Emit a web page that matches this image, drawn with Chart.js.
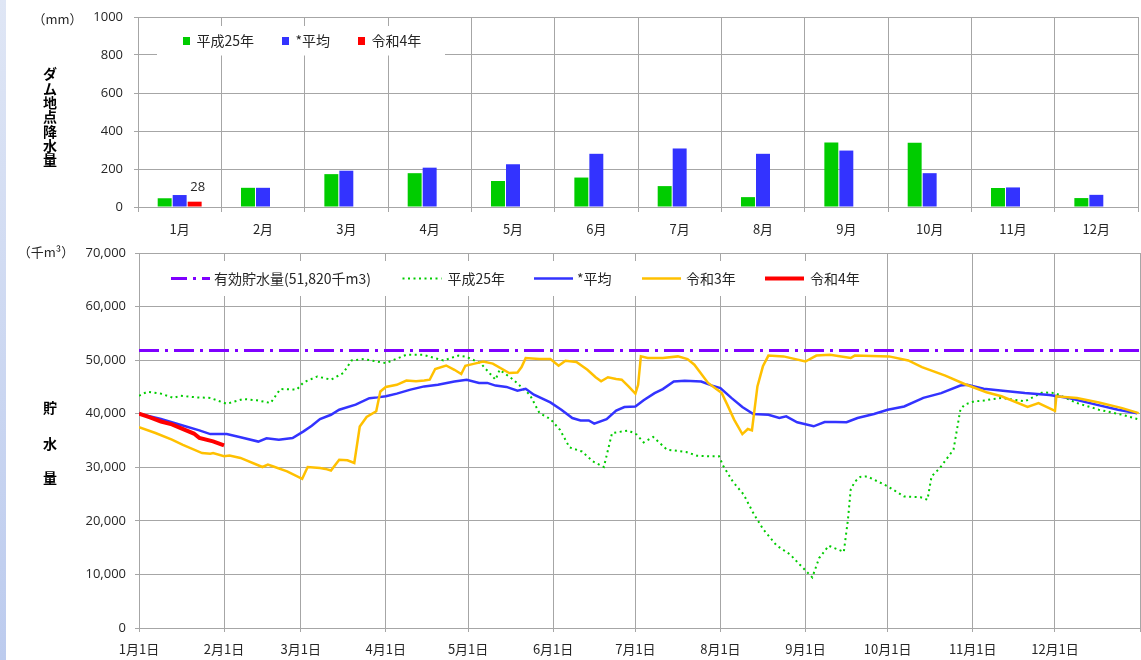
<!DOCTYPE html>
<html><head><meta charset="utf-8">
<script src="https://cdn.jsdelivr.net/npm/chart.js@4.4.1/dist/chart.umd.min.js"></script>
<style>
html,body{margin:0;padding:0;background:#fff;width:1141px;height:660px;overflow:hidden;}
#strip{position:absolute;left:0;top:0;width:6px;height:660px;background:linear-gradient(#dfe6f5,#bccbee);z-index:2;}
#c1{position:absolute;left:0;top:0;}
#c2{position:absolute;left:0;top:240px;}
</style></head><body>
<canvas id="c1" width="1141" height="240"></canvas>
<canvas id="c2" width="1141" height="420"></canvas>
<div id="strip"></div>
<script>
// ---------- data: rainfall (mm) ----------
const months = ['1月','2月','3月','4月','5月','6月','7月','8月','9月','10月','11月','12月'];
const rainH25 = [46, 101, 173, 178, 137, 155, 110, 52, 340, 338, 100, 47];
const rainAvg = [63, 101, 191, 207, 225, 280, 308, 280, 297, 178, 103, 64];
const rainR4  = [28, null, null, null, null, null, null, null, null, null, null, null];

// ---------- data: storage (千m3), x = day of year (0 = 1月1日) ----------
const capacity = 51820;
const monthStartDays = [0, 31, 59, 90, 120, 151, 181, 212, 243, 273, 304, 334];
const dayTickLabels = ['1月1日','2月1日','3月1日','4月1日','5月1日','6月1日','7月1日','8月1日','9月1日','10月1日','11月1日','12月1日'];

const h25Days = [0,3,8,12.5,15,21,26,32,38,43,48,51.5,57.5,60,65,70,74.5,77.5,82,90,97.5,103.5,111,116.5,119.5,124.5,130,131.5,136.5,142.5,146,150,153.5,157,161.5,165.5,169.5,172.5,178.5,181.5,184,187.5,192.5,199.5,203.5,208,211.5,213,216.5,220.5,224,227.5,232.5,237.5,241,245.5,248,251.5,257,258.5,259.5,261,263,265.5,270,273,279,285,287.5,289,292,297,299.5,301,304.5,308,311.5,314.5,323,329.5,334,342,350,358.5,364];
const h25Vals = [43350,44100,43750,42950,43350,43050,42950,41850,42750,42500,42000,44600,44500,45850,46950,46350,47600,49950,50200,49450,51000,51000,49950,50850,50600,49450,46350,48200,46350,43550,40150,39000,37000,33700,32950,31100,30050,36400,36850,36100,34650,35650,33300,32850,32150,32050,32050,30300,27350,24900,21450,18500,15400,13700,11800,9450,13050,15350,14200,20200,25800,27300,28200,28300,27200,26450,24550,24400,23950,28300,29850,33300,40750,41700,42300,42450,42750,42950,42300,44000,43850,42000,40750,39800,39000];

const avgDays = [0,8,15,22,26,32,37,43.5,46.5,51,56,60,63,66,70,73,79,84,87,90,94,99,104,109,115,119.5,124,127,130,134,138,141,144,150,154,158,161,164,166,170.5,174,177,181,184,188,191,195,199,205,209,212,216,220,224,229.5,233.5,236,240,246,250,254,258,262,268,273,279,286,292.5,299.5,302,308,315,323,332,339,349,357,364];
const avgVals = [40000,39000,37950,36900,36200,36200,35600,34800,35400,35150,35450,36700,37750,39000,39800,40750,41700,42900,43050,43250,43750,44500,45100,45400,46000,46350,45750,45750,45250,45000,44300,44650,43550,42100,40750,39200,38750,38750,38150,39000,40600,41250,41350,42500,43850,44600,46000,46150,46000,45250,44800,42950,41250,39950,39800,39200,39500,38400,37650,38450,38450,38400,39200,39950,40750,41350,42950,43850,45250,45400,44650,44300,43850,43500,42950,41700,40750,40100];

const r3Days = [0,6,12,16,23,26,27,31,33,37,45,47,49,54,59.5,61.5,66,68,70,73,76,78.5,80.5,83,86.5,88,90,94,97.5,101,104,106,108,112,115,117.5,119,122,125.5,129,135,138,139.5,141,146,150,153,155.5,159.5,163.5,166.5,168.5,171,174,176,178.5,181,182,183,185.5,191,196.5,200,202.5,207.5,210.5,212.5,214.5,217,220,222,223.5,225.5,227.5,229.5,235,243,247,252,259.5,261,273.5,280.5,285.5,294,301,309,314.5,324,328,334,334.5,342,350,358.5,364.5];
const r3Vals = [37500,36400,35150,34200,32650,32550,32650,32050,32200,31750,30050,30500,30150,29250,27850,30050,29850,29700,29400,31400,31300,30800,37600,39400,40450,44150,45000,45400,46200,46050,46200,46350,48350,49000,48200,47400,48950,49300,49750,49350,47600,47700,48700,50400,50200,50200,48950,49900,49650,48200,46800,46050,46800,46500,46350,45100,43750,45400,50700,50400,50400,50700,50200,49150,45750,44600,43850,41700,38900,36200,37150,36900,45100,48850,50850,50700,49750,50850,51000,50400,50850,50700,49950,48700,47100,45550,44000,43250,41250,42000,40550,43250,42950,42100,41050,40100];

const r4Days = [0,4,8,12,15,20,22,27,31];
const r4Vals = [40000,39300,38550,38000,37350,36300,35500,34850,34100];

// ---------- styles ----------
const GRID = '#a6a6a6';
const TXT = '#262626';
const NUM_FONT = {family: "'Open Sans', sans-serif", size: 13};
const JP_FONT = {family: "'Noto Sans CJK JP', sans-serif", size: 13};
const JP = "'Noto Sans CJK JP', sans-serif";

function vtext(ctx, chars, x, ys) {
  ctx.save();
  ctx.font = "bold 14px " + JP;
  ctx.fillStyle = '#000';
  ctx.textAlign = 'center';
  ctx.textBaseline = 'middle';
  chars.forEach((c, i) => ctx.fillText(c, x, ys[i]));
  ctx.restore();
}
function noPad(s) { s.paddingTop = 0; s.paddingBottom = 0; s.paddingLeft = 0; s.paddingRight = 0; }

const topDecor = {
  id: 'topDecor',
  afterDraw(chart) {
    const ctx = chart.ctx;
    ctx.save();
    // legend box
    ctx.fillStyle = '#fff';
    ctx.fillRect(157, 26, 288, 29.5);
    const items = [[183, 0], [282, 1], [358, 2]];
    ctx.font = "14px " + JP;
    ctx.textBaseline = 'middle';
    items.forEach(([x, di]) => {
      const ds = chart.data.datasets[di];
      ctx.fillStyle = ds.backgroundColor;
      ctx.fillRect(x, 37, 7, 8);
      ctx.fillStyle = TXT;
      ctx.textAlign = 'left';
      ctx.fillText(ds.label, x + 13.5, 41);
    });
    // data label on 令和4年 bar
    const meta = chart.getDatasetMeta(2);
    const bar = meta.data[0];
    ctx.font = "13px 'Open Sans', sans-serif";
    ctx.fillStyle = TXT;
    ctx.textAlign = 'center';
    ctx.fillText(String(chart.data.datasets[2].data[0]), bar.x + 3, bar.y - 14.5);
    // unit
    ctx.font = "13px " + JP;
    ctx.fillText('（mm）', 57.5, 19);
    ctx.restore();
    const chars = 'ダム地点降水量'.split('');
    vtext(ctx, chars, 50, chars.map((c, i) => 74 + i * 14.3));
  }
};

new Chart(document.getElementById('c1'), {
  type: 'bar',
  data: {
    labels: months,
    datasets: [
      {label: '平成25年', data: rainH25, backgroundColor: '#00cc00', categoryPercentage: 0.54, barPercentage: 0.93},
      {label: '*平均', data: rainAvg, backgroundColor: '#3333ff', categoryPercentage: 0.54, barPercentage: 0.93},
      {label: '令和4年', data: rainR4, backgroundColor: '#ff0000', categoryPercentage: 0.54, barPercentage: 0.93}
    ]
  },
  options: {
    responsive: false, animation: false, devicePixelRatio: 1,
    layout: {padding: {top: 17, right: 3, left: 0, bottom: 0}},
    plugins: {legend: {display: false}, tooltip: {enabled: false}},
    scales: {
      x: {
        grid: {offset: true, color: GRID, tickLength: 5},
        border: {color: GRID},
        ticks: {font: JP_FONT, color: TXT, padding: 9, maxRotation: 0},
        afterFit: s => { s.height = 33; noPad(s); }
      },
      y: {
        min: 0, max: 1000,
        grid: {color: GRID, tickLength: 4},
        border: {color: GRID},
        ticks: {stepSize: 200, font: NUM_FONT, color: TXT, padding: 11, callback: v => String(v)},
        afterFit: s => { s.width = 138; noPad(s); }
      }
    }
  },
  plugins: [topDecor]
});

const botDecor = {
  id: 'botDecor',
  afterDraw(chart) {
    const ctx = chart.ctx;
    ctx.save();
    ctx.fillStyle = '#fff';
    ctx.fillRect(158, 21, 712, 35);
    const items = [[171, 214, 0], [402.5, 447.5, 1], [534, 577, 2], [642, 686, 3], [765, 810, 4]];
    const ly = 38.5;
    items.forEach(([sx, tx, di]) => {
      const ds = chart.data.datasets[di];
      ctx.strokeStyle = ds.borderColor;
      ctx.lineWidth = ds.borderWidth;
      ctx.setLineDash(di === 0 ? [16, 6, 3, 6] : (ds.borderDash || []));
      ctx.beginPath();
      ctx.moveTo(sx, ly);
      ctx.lineTo(sx + 39, ly);
      ctx.stroke();
      ctx.setLineDash([]);
      ctx.fillStyle = TXT;
      ctx.font = "14px " + JP;
      ctx.textAlign = 'left';
      ctx.textBaseline = 'middle';
      ctx.fillText(ds.label, tx, ly);
    });
    ctx.font = "13px " + JP;
    ctx.textAlign = 'center';
    ctx.textBaseline = 'middle';
    ctx.fillStyle = TXT;
    ctx.fillText('（千m³）', 46, 12);
    ctx.restore();
    vtext(ctx, ['貯', '水', '量'], 50, [168, 204, 238]);
  }
};

const toXY = (days, vals) => days.map((d, i) => ({x: d, y: vals[i]}));
const lineBase = {pointRadius: 0, fill: false, tension: 0};

new Chart(document.getElementById('c2'), {
  type: 'line',
  data: {
    datasets: [
      Object.assign({label: '有効貯水量(51,820千m3)', data: [{x: 0, y: capacity}, {x: 365, y: capacity}], borderColor: '#7f00ff', borderWidth: 3, borderDash: [20, 6, 3, 6], order: 5}, lineBase),
      Object.assign({label: '平成25年', data: toXY(h25Days, h25Vals), borderColor: '#00cc00', borderWidth: 2, borderDash: [2, 3.5], order: 4}, lineBase),
      Object.assign({label: '*平均', data: toXY(avgDays, avgVals), borderColor: '#3333ff', borderWidth: 2.5, order: 3}, lineBase),
      Object.assign({label: '令和3年', data: toXY(r3Days, r3Vals), borderColor: '#ffc000', borderWidth: 2.5, order: 2}, lineBase),
      Object.assign({label: '令和4年', data: toXY(r4Days, r4Vals), borderColor: '#ff0000', borderWidth: 4, order: 1}, lineBase)
    ]
  },
  options: {
    responsive: false, animation: false, devicePixelRatio: 1,
    layout: {padding: {top: 13, right: 1, left: 0, bottom: 0}},
    plugins: {legend: {display: false}, tooltip: {enabled: false}},
    scales: {
      x: {
        type: 'linear', min: 0, max: 365,
        afterBuildTicks: s => { s.ticks = monthStartDays.concat([365]).map(v => ({value: v})); },
        grid: {color: GRID, tickLength: 4},
        border: {color: GRID},
        ticks: {autoSkip: false, maxRotation: 0, font: JP_FONT, color: TXT, padding: 9,
          callback: (v, i) => i < dayTickLabels.length ? dayTickLabels[i] : ''},
        afterFit: s => { s.height = 32; noPad(s); }
      },
      y: {
        min: 0, max: 70000,
        grid: {color: GRID, tickLength: 4},
        border: {color: GRID},
        ticks: {stepSize: 10000, font: NUM_FONT, color: TXT, padding: 9,
          callback: v => v.toLocaleString('en-US')},
        afterFit: s => { s.width = 139; noPad(s); }
      }
    }
  },
  plugins: [botDecor]
});
</script>
</body></html>
